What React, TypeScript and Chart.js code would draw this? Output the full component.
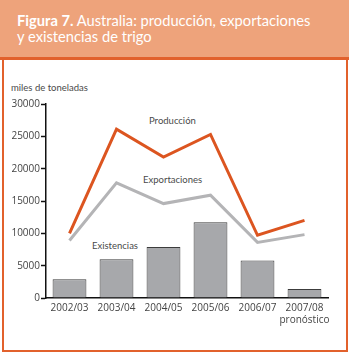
import React, { useEffect, useRef } from "react";
import { Chart, registerables } from "chart.js";

Chart.register(...registerables);

const categories: (string | string[])[] = ["2002/03", "2003/04", "2004/05", "2005/06", "2006/07", ["2007/08", "pronóstico"]];
const produccion = [10000, 26100, 21800, 25300, 9700, 12000];
const exportaciones = [8900, 17800, 14600, 15900, 8600, 9800];
const existencias = [2900, 6000, 7900, 11700, 5800, 1400];
const yTicks = [0, 5000, 10000, 15000, 20000, 25000, 30000];

const FONT = "'Open Sans', 'Noto Sans', sans-serif";
const TFONT = "Lato, 'Open Sans', sans-serif";

export default function App() {
  const ref = useRef<HTMLCanvasElement | null>(null);
  useEffect(() => {
    if (!ref.current) return;
    const chart = new Chart(ref.current, {
      type: "bar",
      data: {
        labels: categories,
        datasets: [
          {
            type: "line",
            label: "Producción",
            data: produccion,
            borderColor: "#dc5520",
            borderWidth: 3,
            pointRadius: 0,
            tension: 0,
            fill: false,
            order: 0,
          },
          {
            type: "line",
            label: "Exportaciones",
            data: exportaciones,
            borderColor: "#b4b4b6",
            borderWidth: 3,
            pointRadius: 0,
            tension: 0,
            fill: false,
            order: 1,
          },
          {
            type: "bar",
            label: "Existencias",
            data: existencias,
            backgroundColor: "#a7a8ab",
            borderColor: "#3c3c3c",
            borderWidth: 1,
            categoryPercentage: 1,
            barPercentage: 0.72,
            order: 2,
          },
        ],
      },
      options: {
        animation: false,
        responsive: false,
        maintainAspectRatio: false,
        layout: { padding: { left: 0, right: 22, top: 104, bottom: 15 } },
        plugins: { legend: { display: false }, tooltip: { enabled: false }, title: { display: false } },
        scales: {
          x: {
            grid: { display: false, drawTicks: false },
            border: { display: true, color: "#111", width: 1.5 },
            ticks: { color: "#444", font: { family: FONT, size: 10 }, padding: 4, maxRotation: 0, autoSkip: false },
            afterFit: (s: any) => { s.height = 40; },
          },
          y: {
            min: 0,
            max: 30000,
            afterBuildTicks: (s: any) => { s.ticks = yTicks.map((v) => ({ value: v })); },
            grid: { drawOnChartArea: false, drawTicks: true, tickLength: 5, tickColor: "#111", tickWidth: 1.5 },
            border: { display: true, color: "#111", width: 1.5 },
            ticks: { color: "#444", font: { family: FONT, size: 10 }, padding: 1, callback: (v: any) => String(v) },
            afterFit: (s: any) => { s.width = 46; },
          },
        },
      },
    });
    return () => chart.destroy();
  }, []);

  const label = (text: string, left: number, top: number, extra: React.CSSProperties = {}) => (
    <div style={{ position: "absolute", left, top, fontFamily: TFONT, fontSize: 9.5, color: "#4a4a4a", lineHeight: "12px", whiteSpace: "nowrap", ...extra }}>{text}</div>
  );

  return (
    <div style={{ position: "absolute", left: 0, top: 0, width: 350, height: 353, background: "#fff", overflow: "hidden" }}>
      <div style={{ position: "absolute", left: 0, top: 0, width: 349, height: 57, background: "#eea37b" }} />
      <div style={{ position: "absolute", left: 0, top: 57, width: 349, height: 3, background: "#e2612c" }} />
      <div style={{ position: "absolute", left: 2, top: 57, width: 2, height: 295, background: "#e2612c" }} />
      <div style={{ position: "absolute", left: 346, top: 57, width: 2, height: 295, background: "#e2612c" }} />
      <div style={{ position: "absolute", left: 2, top: 350, width: 346, height: 2, background: "#e2612c" }} />
      <div style={{ position: "absolute", left: 17, top: 12, fontFamily: TFONT, fontSize: 14.7, lineHeight: "16px", color: "#fff" }}>
        <span style={{ fontWeight: 700 }}>Figura 7.</span> Australia: producción, exportaciones
        <br />y existencias de trigo
      </div>
      {label("miles de toneladas", 11, 82)}
      {label("Producción", 149, 115)}
      {label("Exportaciones", 143, 174)}
      {label("Existencias", 92, 240)}
      <canvas ref={ref} width={350} height={353} style={{ position: "absolute", left: 0, top: 0, width: 350, height: 353 }} />
    </div>
  );
}
